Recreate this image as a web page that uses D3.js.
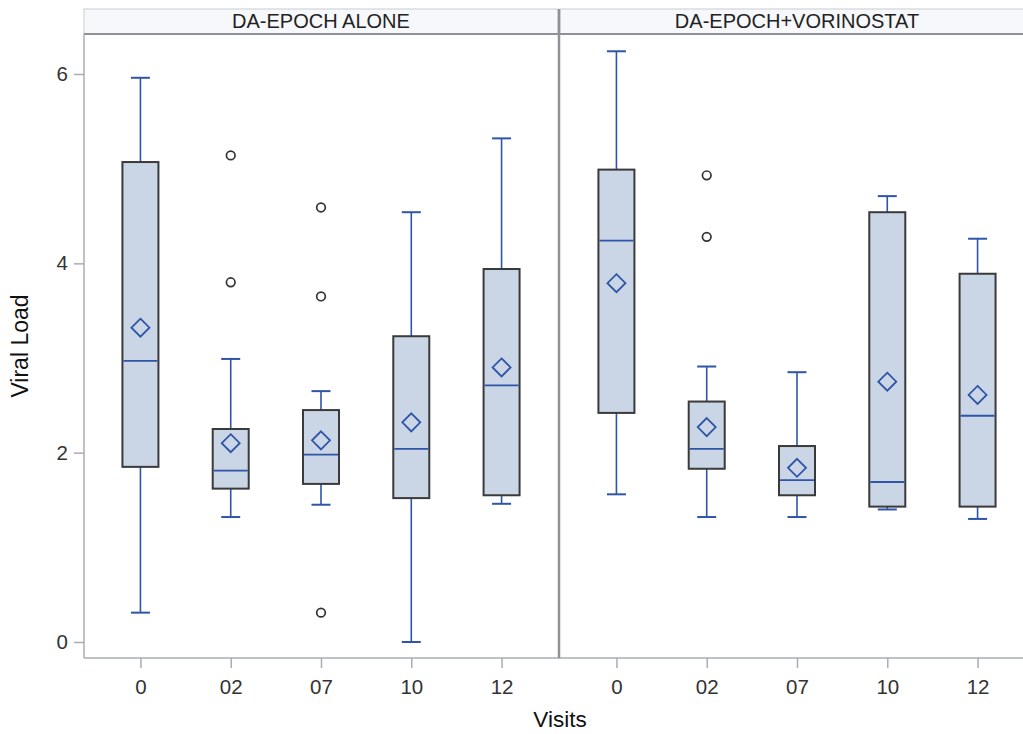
<!DOCTYPE html>
<html>
<head>
<meta charset="utf-8">
<script src="https://cdn.jsdelivr.net/npm/d3@7"></script>
<style>
  html, body { margin: 0; padding: 0; background: #fff; }
  svg { display: block; font-family: "Liberation Sans", Arial, sans-serif; }
</style>
</head>
<body>
<svg id="chart" width="1023" height="734"></svg>
<script>
// ---------- data ----------
const visits = ["0", "02", "07", "10", "12"];
const groups = ["DA-EPOCH ALONE", "DA-EPOCH+VORINOSTAT"];
const yTicks = [0, 2, 4, 6];

// DA-EPOCH ALONE
const aloneLow     = [0.31, 1.32, 1.45, 0.00, 1.46];
const aloneQ1      = [1.85, 1.62, 1.67, 1.52, 1.55];
const aloneMedian  = [2.97, 1.81, 1.98, 2.04, 2.71];
const aloneQ3      = [5.07, 2.25, 2.45, 3.23, 3.94];
const aloneHigh    = [5.96, 2.99, 2.65, 4.54, 5.32];
const aloneMean    = [3.32, 2.10, 2.13, 2.32, 2.90];
const aloneOutliers = [[], [3.80, 5.14], [0.31, 3.65, 4.59], [], []];

// DA-EPOCH+VORINOSTAT
const vorLow     = [1.56, 1.32, 1.32, 1.40, 1.30];
const vorQ1      = [2.42, 1.83, 1.55, 1.43, 1.43];
const vorMedian  = [4.24, 2.04, 1.71, 1.69, 2.39];
const vorQ3      = [4.99, 2.54, 2.07, 4.54, 3.89];
const vorHigh    = [6.24, 2.91, 2.85, 4.71, 4.26];
const vorMean    = [3.79, 2.27, 1.84, 2.75, 2.61];
const vorOutliers = [[], [4.28, 4.93], [], [], []];

function buildRows(low, q1, med, q3, high, mean, outl) {
  return visits.map((v, i) => ({
    visit: v, low: low[i], q1: q1[i], median: med[i], q3: q3[i],
    high: high[i], mean: mean[i], outliers: outl[i]
  }));
}
const panelsData = [
  buildRows(aloneLow, aloneQ1, aloneMedian, aloneQ3, aloneHigh, aloneMean, aloneOutliers),
  buildRows(vorLow, vorQ1, vorMedian, vorQ3, vorHigh, vorMean, vorOutliers)
];

// ---------- layout ----------
const svg = d3.select("#chart");
const plotTop = 34, plotBottom = 658;
const headerTop = 9;
const panelW = 474;
const panelX = [84, 560];

const y = d3.scaleLinear().domain([0, 6]).range([642, 74]);

const boxColor = "#CAD5E5";
const blue = "#2F55A8";
const boxStroke = "#3a3a3a";
const axisGray = "#A9ADB2";

// header strips
panelX.forEach((px, gi) => {
  svg.append("rect")
    .attr("x", px).attr("y", headerTop)
    .attr("width", panelW).attr("height", plotTop - headerTop)
    .attr("fill", "#F7F8FC").attr("stroke", "#C8CBCF").attr("stroke-width", 1);
  svg.append("text")
    .attr("x", px + panelW / 2).attr("y", headerTop + 19)
    .attr("text-anchor", "middle")
    .attr("font-size", 20).attr("fill", "#222")
    .text(groups[gi]);
});

// panels
panelX.forEach((px, gi) => {
  const x = d3.scalePoint().domain(visits).range([px, px + panelW]).padding(0.625);
  const g = svg.append("g");
  const rows = panelsData[gi];
  const boxW = 36, capW = 19;

  rows.forEach(d => {
    const cx = x(d.visit);
    // whiskers
    g.append("line").attr("x1", cx).attr("x2", cx).attr("y1", y(d.q3)).attr("y2", y(d.high))
      .attr("stroke", blue).attr("stroke-width", 1.6);
    g.append("line").attr("x1", cx).attr("x2", cx).attr("y1", y(d.q1)).attr("y2", y(d.low))
      .attr("stroke", blue).attr("stroke-width", 1.6);
    g.append("line").attr("x1", cx - capW / 2).attr("x2", cx + capW / 2).attr("y1", y(d.high)).attr("y2", y(d.high))
      .attr("stroke", blue).attr("stroke-width", 2);
    g.append("line").attr("x1", cx - capW / 2).attr("x2", cx + capW / 2).attr("y1", y(d.low)).attr("y2", y(d.low))
      .attr("stroke", blue).attr("stroke-width", 2);
    // box
    g.append("rect").attr("x", cx - boxW / 2).attr("y", y(d.q3))
      .attr("width", boxW).attr("height", y(d.q1) - y(d.q3))
      .attr("fill", boxColor).attr("stroke", boxStroke).attr("stroke-width", 2);
    // median
    g.append("line").attr("x1", cx - boxW / 2 + 1).attr("x2", cx + boxW / 2 - 1)
      .attr("y1", y(d.median)).attr("y2", y(d.median))
      .attr("stroke", blue).attr("stroke-width", 1.8);
    // mean diamond
    const r = 9;
    const my = y(d.mean);
    g.append("path")
      .attr("d", `M${cx},${my - r}L${cx + r},${my}L${cx},${my + r}L${cx - r},${my}Z`)
      .attr("fill", "none").attr("stroke", blue).attr("stroke-width", 1.8);
    // outliers
    d.outliers.forEach(o => {
      g.append("circle").attr("cx", cx).attr("cy", y(o)).attr("r", 4.3)
        .attr("fill", "#fff").attr("stroke", "#333").attr("stroke-width", 1.7);
    });
  });

  // x axis ticks & labels
  const xa = svg.append("g").attr("transform", `translate(0,${plotBottom})`)
    .call(d3.axisBottom(x).tickSize(10).tickSizeOuter(0));
  xa.select(".domain").remove();
  xa.selectAll(".tick line").attr("stroke", axisGray).attr("stroke-width", 1.5);
  xa.selectAll(".tick text").attr("font-size", 20.5).attr("fill", "#333")
    .attr("font-family", "Liberation Sans, Arial, sans-serif").attr("dy", "1.1em");
});

// panel frame lines
svg.append("line").attr("x1", 84).attr("x2", 1023).attr("y1", plotTop).attr("y2", plotTop)
  .attr("stroke", "#8E9296").attr("stroke-width", 2);
svg.append("line").attr("x1", 84).attr("x2", 1023).attr("y1", plotBottom).attr("y2", plotBottom)
  .attr("stroke", axisGray).attr("stroke-width", 1.5);
svg.append("line").attr("x1", 84).attr("x2", 84).attr("y1", plotTop).attr("y2", plotBottom)
  .attr("stroke", axisGray).attr("stroke-width", 1.5);
svg.append("line").attr("x1", 559).attr("x2", 559).attr("y1", headerTop).attr("y2", plotBottom)
  .attr("stroke", "#8E9296").attr("stroke-width", 2.5);

// y axis
const ya = svg.append("g").attr("transform", "translate(84,0)")
  .call(d3.axisLeft(y).tickValues(yTicks).tickFormat(d3.format("d")).tickSize(10).tickPadding(6));
ya.select(".domain").remove();
ya.selectAll(".tick line").attr("stroke", axisGray).attr("stroke-width", 1.5);
ya.selectAll(".tick text").attr("font-size", 20.5).attr("fill", "#333")
  .attr("font-family", "Liberation Sans, Arial, sans-serif");

// axis titles
svg.append("text").attr("x", 560).attr("y", 727).attr("text-anchor", "middle")
  .attr("font-size", 22.5).attr("fill", "#111").text("Visits");
svg.append("text").attr("transform", "translate(28,346) rotate(-90)").attr("text-anchor", "middle")
  .attr("font-size", 23).attr("fill", "#111").text("Viral Load");
</script>
</body>
</html>
